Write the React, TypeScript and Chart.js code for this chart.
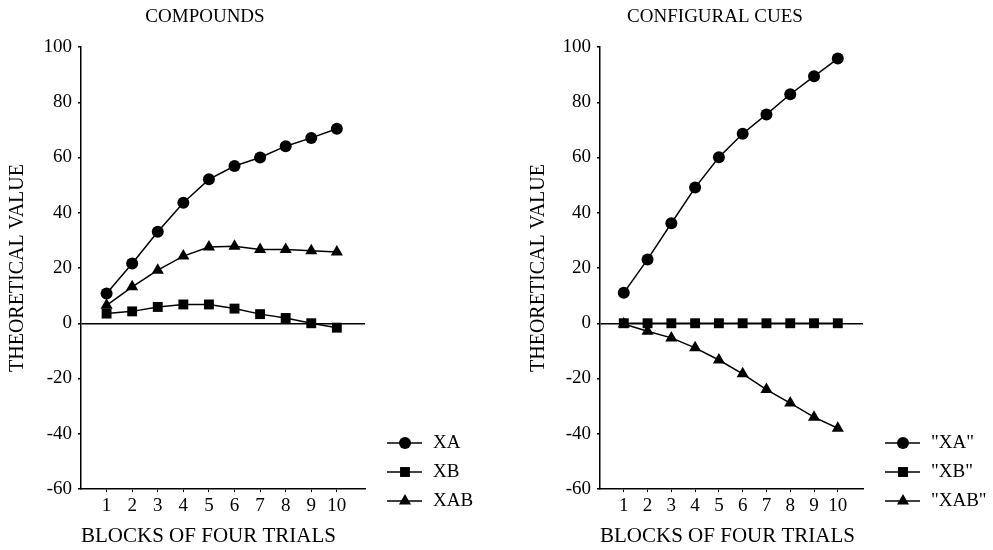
import React, { useEffect, useRef } from "react";
import { Chart, registerables } from "chart.js";

Chart.register(...registerables);

// ---------- data ----------
const blocks = [1, 2, 3, 4, 5, 6, 7, 8, 9, 10];

const compoundsLabels = ["XA", "XB", "XAB"];
const compoundsXA = [10.8, 21.6, 33.1, 43.6, 52.1, 56.9, 60.0, 64.1, 67.1, 70.4];
const compoundsXB = [3.5, 4.3, 5.9, 6.8, 6.8, 5.3, 3.3, 1.9, 0.0, -1.6];
const compoundsXAB = [6.5, 13.2, 19.2, 24.3, 27.6, 27.9, 26.7, 26.7, 26.2, 25.8];

const configuralLabels = ['"XA"', '"XB"', '"XAB"'];
const configuralXA = [11.0, 23.1, 36.2, 49.1, 60.1, 68.6, 75.6, 82.9, 89.4, 95.8];
const configuralXB = [0, 0, 0, 0, 0, 0, 0, 0, 0, 0];
const configuralXAB = [-0.3, -2.9, -5.3, -8.9, -13.3, -18.3, -24.0, -28.9, -34.0, -38.0];

const yMin = -60;
const yMax = 100;
const yStep = 20;

const xTitle = "BLOCKS OF FOUR TRIALS";
const yTitle = "THEORETICAL VALUE";

// ---------- styling ----------
const FONT = '"Liberation Serif", "Times New Roman", Times, serif';
const pointStyles = ["circle", "rect", "triangle"];
const pointRadii = [6, 7, 7];

const panels = [
  {
    title: "COMPOUNDS",
    labels: compoundsLabels,
    series: [compoundsXA, compoundsXB, compoundsXAB],
    left: 0,
    width: 497,
    padLeft: 0,
    areaLeft: 81,
    areaRight: 365,
    xMax: 11.1,
    titleX: 205,
  },
  {
    title: "CONFIGURAL CUES",
    labels: configuralLabels,
    series: [configuralXA, configuralXB, configuralXAB],
    left: 497,
    width: 496,
    padLeft: 24,
    areaLeft: 103,
    areaRight: 366,
    xMax: 11.06,
    titleX: 218,
  },
];

function drawMarker(ctx: CanvasRenderingContext2D, style: string, x: number, y: number, r: number) {
  ctx.beginPath();
  if (style === "circle") {
    ctx.arc(x, y, r, 0, Math.PI * 2);
  } else if (style === "rect") {
    const s = Math.SQRT1_2 * r;
    ctx.rect(x - s, y - s, 2 * s, 2 * s);
  } else {
    ctx.moveTo(x, y - r);
    ctx.lineTo(x + r * Math.sin((2 * Math.PI) / 3), y - r * Math.cos((2 * Math.PI) / 3));
    ctx.lineTo(x + r * Math.sin((4 * Math.PI) / 3), y - r * Math.cos((4 * Math.PI) / 3));
    ctx.closePath();
  }
  ctx.fill();
}

const overlayPlugin = {
  id: "overlay",
  afterDraw(chart: any, _args: any, opts: any) {
    const { ctx, chartArea } = chart;
    ctx.save();
    ctx.fillStyle = "#000";
    ctx.strokeStyle = "#000";
    ctx.font = `19px ${FONT}`;
    ctx.textAlign = "center";
    ctx.textBaseline = "middle";
    ctx.fillText(opts.title, opts.titleX, opts.titleY);

    chart.data.datasets.forEach((ds: any, i: number) => {
      const y = opts.legendTop + i * opts.legendGap;
      const x0 = chartArea.right + 22;
      const x1 = chartArea.right + 57;
      ctx.lineWidth = 1.5;
      ctx.beginPath();
      ctx.moveTo(x0, y);
      ctx.lineTo(x1, y);
      ctx.stroke();
      drawMarker(ctx, ds.pointStyle, chartArea.right + 40, y, ds.pointRadius);
      ctx.textAlign = "left";
      ctx.fillText(ds.label, chartArea.right + 68, y);
    });
    ctx.restore();
  },
};

function Panel({ panel }: { panel: (typeof panels)[number] }) {
  const ref = useRef<HTMLCanvasElement | null>(null);

  useEffect(() => {
    if (!ref.current) return;
    const datasets = panel.series.map((values, i) => ({
      label: panel.labels[i],
      data: blocks.map((b, j) => ({ x: b, y: values[j] })),
      borderColor: "#000",
      backgroundColor: "#000",
      borderWidth: 1.5,
      pointStyle: pointStyles[i],
      pointRadius: pointRadii[i],
      pointBorderWidth: 0,
      pointBackgroundColor: "#000",
      tension: 0,
      clip: false as any,
    }));

    const chart = new Chart(ref.current, {
      type: "line",
      data: { datasets },
      plugins: [overlayPlugin],
      options: {
        animation: false,
        responsive: false,
        maintainAspectRatio: false,
        layout: {
          padding: {
            left: panel.padLeft,
            top: 47,
            right: panel.width - panel.areaRight,
            bottom: 1,
          },
        },
        plugins: {
          legend: { display: false },
          tooltip: { enabled: false },
          title: { display: false },
          overlay: {
            title: panel.title,
            titleX: panel.titleX,
            titleY: 17,
            legendTop: 443,
            legendGap: 29,
          },
        } as any,
        scales: {
          x: {
            type: "linear",
            min: 0,
            max: panel.xMax,
            afterBuildTicks: (axis: any) => {
              axis.ticks = blocks.map((v) => ({ value: v }));
            },
            afterFit: (scale: any) => {
              scale.height = 60;
            },
            ticks: {
              color: "#000",
              font: { family: FONT, size: 19 },
              padding: 3,
              maxRotation: 0,
              autoSkip: false,
              callback: (v: any) => String(v),
            },
            grid: {
              drawOnChartArea: false,
              drawTicks: true,
              tickLength: 3,
              tickColor: "#000",
              color: "#000",
            },
            border: { display: true, color: "#000", width: 1.5 },
            title: {
              display: true,
              text: xTitle,
              align: "start",
              color: "#000",
              font: { family: FONT, size: 21 },
              padding: { top: 0, bottom: 0 },
            },
          },
          y: {
            type: "linear",
            min: yMin,
            max: yMax,
            afterFit: (scale: any) => {
              scale.width = panel.areaLeft - panel.padLeft;
            },
            ticks: {
              stepSize: yStep,
              color: "#000",
              font: { family: FONT, size: 19 },
              padding: 6,
            },
            grid: {
              drawOnChartArea: true,
              drawTicks: true,
              tickLength: 3,
              tickColor: "#000",
              lineWidth: 1.5,
              color: (c: any) => (c.tick && c.tick.value === 0 ? "#000" : "rgba(0,0,0,0)"),
            },
            border: { display: true, color: "#000", width: 1.5 },
            title: {
              display: true,
              text: yTitle,
              color: "#000",
              font: { family: FONT, size: 20 },
              padding: { top: 6, bottom: 0 },
            },
          },
        },
      } as any,
    });
    return () => chart.destroy();
  }, [panel]);

  return (
    <canvas
      ref={ref}
      width={panel.width}
      height={550}
      style={{ position: "absolute", left: panel.left, top: 0, display: "block" }}
    />
  );
}

export default function App() {
  return (
    <div
      style={{
        position: "absolute",
        left: 0,
        top: 0,
        width: 993,
        height: 550,
        background: "#fff",
        overflow: "hidden",
      }}
    >
      {panels.map((p) => (
        <Panel key={p.title} panel={p} />
      ))}
    </div>
  );
}
